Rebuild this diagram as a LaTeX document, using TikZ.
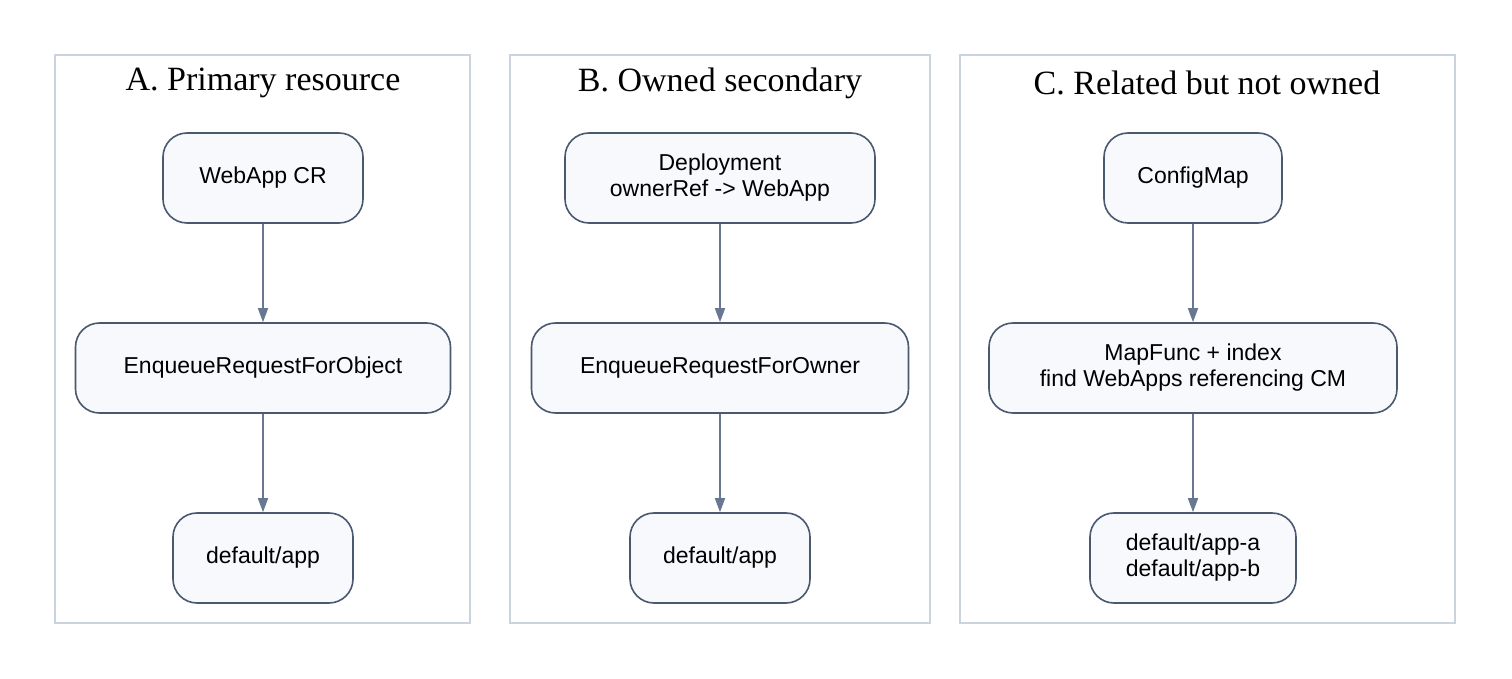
\documentclass[tikz,border=0pt]{standalone}
\usepackage{fontspec}
\setmainfont{Liberation Serif}
\setsansfont{Liberation Sans}
\usetikzlibrary{arrows.meta,positioning}
\definecolor{nodeline}{HTML}{4A5870}
\definecolor{nodefill}{HTML}{F7F9FC}
\definecolor{edgeline}{HTML}{687890}
\definecolor{boxline}{HTML}{CBD3DF}

\begin{document}
\begin{tikzpicture}[x=0.5pt, y=-0.5pt,
  stepbox/.style={draw=nodeline, fill=nodefill, line width=0.8pt, rounded corners=12pt,
    minimum height=45pt, align=center, font=\sffamily\fontsize{11.5}{13}\selectfont, inner sep=0pt},
  flow/.style={-{Triangle[length=7pt,width=5pt]}, draw=edgeline, line width=0.8pt},
  cluster/.style={draw=boxline, line width=0.8pt},
  title/.style={font=\rmfamily\fontsize{17}{19}\selectfont}]
  \useasboundingbox (0,0) rectangle (1512,679);

  % clusters
  \draw[cluster] (55,55) rectangle (470,623);
  \draw[cluster] (510,55) rectangle (930,623);
  \draw[cluster] (960,55) rectangle (1455,623);
  \node[title] (tA) at (263,83)  {A. Primary resource};
  \node[title] (tB) at (720,83)  {B. Owned secondary};
  \node[title] (tC) at (1207,83) {C. Related but not owned};

  % A
  \node[stepbox, minimum width=100pt]   (A1) at (263,178) {WebApp CR};
  \node[stepbox, minimum width=187.5pt] (A2) at (263,368) {EnqueueRequestForObject};
  \node[stepbox, minimum width=90pt]    (A3) at (263,558) {default/app};

  % B
  \node[stepbox, minimum width=155pt]   (B1) at (720,178) {Deployment\\ownerRef -> WebApp};
  \node[stepbox, minimum width=188.5pt] (B2) at (720,368) {EnqueueRequestForOwner};
  \node[stepbox, minimum width=90pt]    (B3) at (720,558) {default/app};

  % C
  \node[stepbox, minimum width=89pt]    (C1) at (1193,178) {ConfigMap};
  \node[stepbox, minimum width=204pt]   (C2) at (1193,368) {MapFunc + index\\find WebApps referencing CM};
  \node[stepbox, minimum width=103pt]   (C3) at (1193,558) {default/app-a\\default/app-b};

  \foreach \g in {A,B,C}{
    \draw[flow] (\g1) -- (\g2);
    \draw[flow] (\g2) -- (\g3);
  }
\end{tikzpicture}
\end{document}
